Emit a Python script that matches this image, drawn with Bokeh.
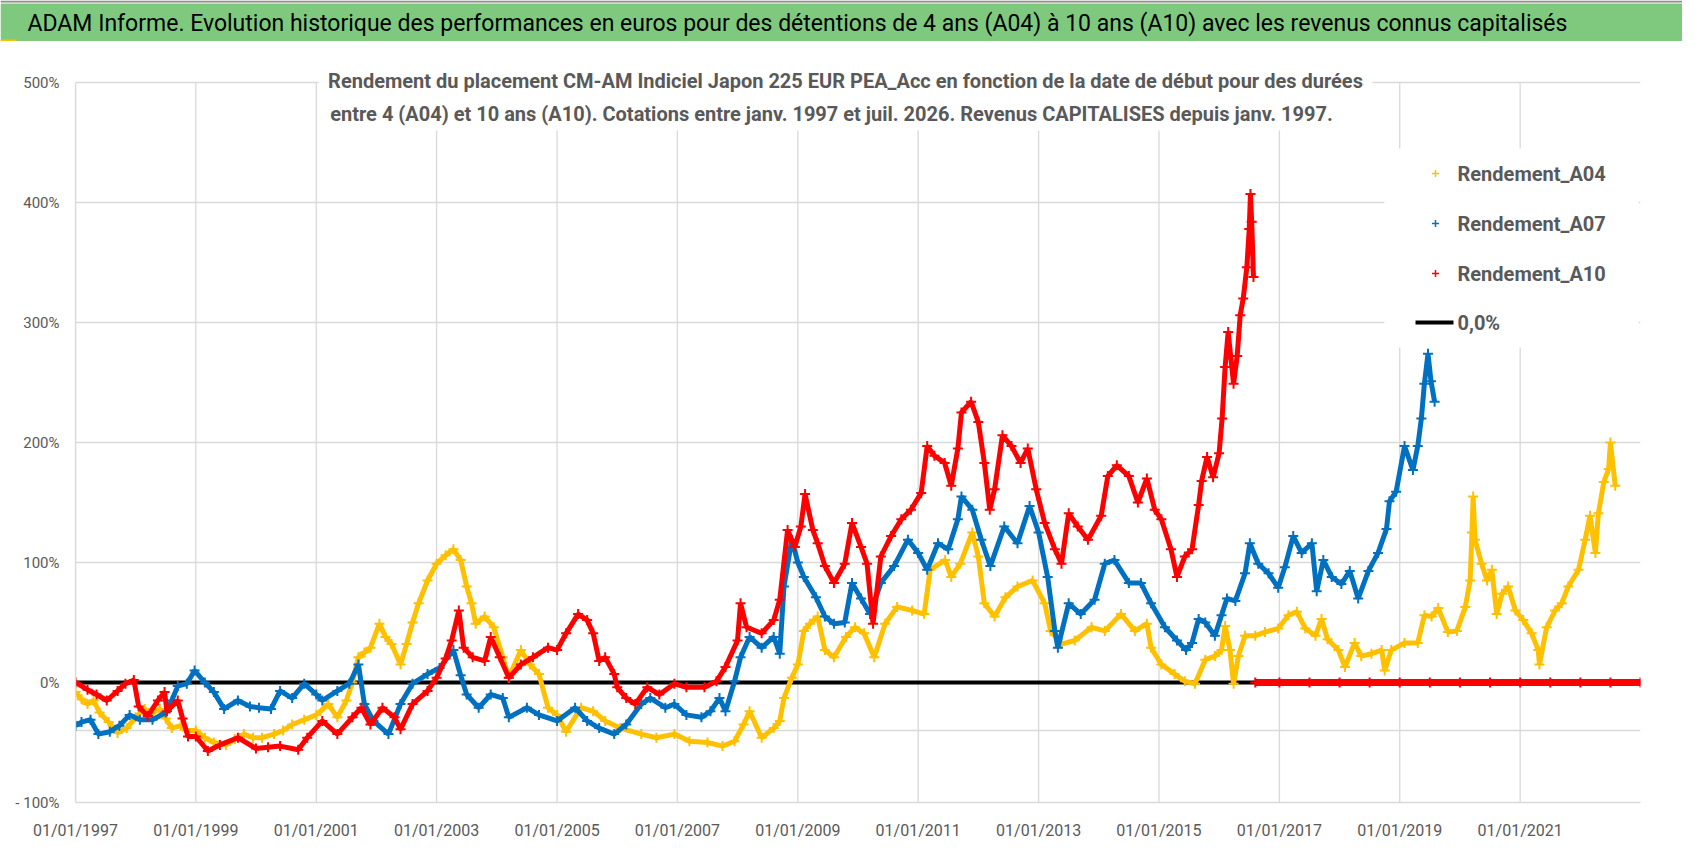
from datetime import datetime

from bokeh.embed import file_html
from bokeh.models import ColumnDataSource, DatetimeTickFormatter, FixedTicker, Label, Range1d, Span
from bokeh.plotting import figure
from bokeh.resources import INLINE

# Start dates (decimal years) and returns (%).
a04_dates = [
    1997.00, 1997.10, 1997.20, 1997.30, 1997.40, 1997.55, 1997.70, 1997.85, 1998.00, 1998.15,
    1998.25, 1998.40, 1998.50, 1998.60, 1998.75, 1998.85, 1999.00, 1999.15, 1999.30, 1999.50,
    1999.65, 1999.80, 1999.95, 2000.10, 2000.30, 2000.45, 2000.60, 2000.80, 2001.00, 2001.20,
    2001.35, 2001.50, 2001.60, 2001.70, 2001.80, 2001.90, 2002.05, 2002.15, 2002.25, 2002.40,
    2002.50, 2002.60, 2002.70, 2002.85, 2003.00, 2003.15, 2003.28, 2003.40, 2003.50, 2003.58,
    2003.65, 2003.80, 2003.95, 2004.10, 2004.20, 2004.40, 2004.55, 2004.70, 2004.85, 2005.00,
    2005.15, 2005.40, 2005.60, 2005.80, 2006.05, 2006.40, 2006.65, 2006.95, 2007.20, 2007.50,
    2007.75, 2007.95, 2008.10, 2008.20, 2008.40, 2008.60, 2008.70, 2008.77, 2008.90, 2009.00,
    2009.10, 2009.20, 2009.33, 2009.45, 2009.60, 2009.80, 2009.95, 2010.10, 2010.27, 2010.45,
    2010.65, 2010.90, 2011.10, 2011.20, 2011.45, 2011.55, 2011.70, 2011.90, 2012.00, 2012.10,
    2012.27, 2012.45, 2012.65, 2012.90, 2013.10, 2013.20, 2013.38, 2013.60, 2013.88, 2014.10,
    2014.37, 2014.60, 2014.80, 2014.87, 2015.04, 2015.26, 2015.43, 2015.60, 2015.77, 2015.93,
    2016.04, 2016.10, 2016.18, 2016.24, 2016.32, 2016.43, 2016.60, 2016.76, 2016.98, 2017.15,
    2017.29, 2017.43, 2017.60, 2017.70, 2017.80, 2017.98, 2018.09, 2018.25, 2018.36, 2018.53,
    2018.70, 2018.75, 2018.86, 2019.08, 2019.30, 2019.41, 2019.53, 2019.64, 2019.80, 2019.95,
    2020.09, 2020.17, 2020.20, 2020.22, 2020.25, 2020.36, 2020.45, 2020.53, 2020.61, 2020.70,
    2020.80, 2020.92, 2021.05, 2021.19, 2021.30, 2021.32, 2021.44, 2021.58, 2021.69, 2021.80,
    2021.97, 2022.08, 2022.16, 2022.25, 2022.30, 2022.39, 2022.47, 2022.50, 2022.58,
]
a04_returns = [
    -8, -14, -18, -15, -25, -33, -42, -38, -29, -22,
    -26, -22, -30, -38, -36, -40, -40, -46, -50, -52,
    -47, -43, -46, -46, -43, -40, -35, -31, -27, -18,
    -29, -15, 0, 21, 25, 29, 49, 38, 32, 15,
    32, 50, 66, 85, 99, 106, 111, 102, 80, 66,
    49, 55, 46, 21, 4, 27, 15, 7, -21, -27,
    -41, -21, -24, -32, -38, -43, -46, -43, -49, -50,
    -53, -49, -35, -24, -46, -38, -32, -13, 4, 15,
    43, 49, 55, 27, 21, 38, 46, 41, 21, 49,
    63, 60, 57, 94, 102, 88, 99, 125, 105, 66,
    55, 71, 80, 85, 66, 43, 32, 35, 46, 43,
    57, 43, 49, 29, 15, 7, 1, -1, 19, 22,
    27, 47, 27, -1, 22, 39, 39, 42, 45, 56,
    59, 45, 39, 53, 36, 27, 13, 33, 22, 24,
    27, 10, 27, 33, 33, 56, 55, 62, 42, 43,
    63, 85, 125, 155, 119, 99, 85, 94, 57, 74,
    80, 60, 52, 41, 27, 15, 46, 60, 66, 80,
    94, 119, 139, 108, 141, 167, 178, 200, 164,
]

a07_dates = [
    1997.00, 1997.10, 1997.25, 1997.38, 1997.57, 1997.73, 1997.90, 1998.07, 1998.28, 1998.50,
    1998.60, 1998.70, 1998.85, 1998.98, 1999.15, 1999.30, 1999.47, 1999.70, 1999.90, 2000.05,
    2000.25, 2000.40, 2000.60, 2000.80, 2001.00, 2001.10, 2001.35, 2001.55, 2001.70, 2001.80,
    2001.95, 2002.20, 2002.40, 2002.60, 2002.85, 2003.05, 2003.28, 2003.40, 2003.50, 2003.70,
    2003.90, 2004.10, 2004.20, 2004.50, 2004.70, 2005.00, 2005.30, 2005.50, 2005.70, 2005.95,
    2006.15, 2006.40, 2006.55, 2006.80, 2006.95, 2007.15, 2007.40, 2007.55, 2007.70, 2007.80,
    2007.95, 2008.05, 2008.20, 2008.40, 2008.60, 2008.70, 2008.77, 2008.90, 2009.00, 2009.10,
    2009.30, 2009.45, 2009.60, 2009.78, 2009.90, 2010.05, 2010.20, 2010.38, 2010.60, 2010.83,
    2011.00, 2011.15, 2011.33, 2011.50, 2011.66, 2011.72, 2011.90, 2012.05, 2012.20, 2012.43,
    2012.65, 2012.85, 2013.00, 2013.15, 2013.27, 2013.32, 2013.50, 2013.70, 2013.93, 2014.10,
    2014.26, 2014.50, 2014.70, 2014.87, 2015.10, 2015.30, 2015.45, 2015.55, 2015.66, 2015.77,
    2015.93, 2016.04, 2016.13, 2016.27, 2016.43, 2016.51, 2016.65, 2016.82, 2016.98, 2017.09,
    2017.23, 2017.37, 2017.54, 2017.62, 2017.73, 2017.87, 2018.03, 2018.17, 2018.31, 2018.48,
    2018.64, 2018.78, 2018.83, 2018.94, 2019.08, 2019.22, 2019.30, 2019.36, 2019.41, 2019.47,
    2019.52, 2019.58,
]
a07_returns = [
    -36, -33, -31, -43, -41, -36, -27, -31, -31, -25,
    -15, -3, -1, 10, 0, -8, -22, -15, -20, -21,
    -22, -7, -13, -1, -10, -15, -7, -1, 15, -18,
    -32, -43, -18, -1, 7, 12, 27, 6, -10, -21,
    -10, -13, -29, -21, -27, -32, -21, -32, -38, -43,
    -35, -18, -13, -21, -18, -27, -29, -24, -13, -24,
    1, 21, 38, 29, 38, 24, 80, 119, 100, 88,
    71, 55, 49, 50, 83, 70, 57, 83, 97, 119,
    108, 94, 116, 111, 136, 155, 144, 119, 97, 130,
    116, 147, 125, 88, 43, 29, 66, 57, 69, 99,
    102, 83, 83, 66, 46, 35, 27, 33, 53, 50,
    39, 56, 70, 68, 91, 116, 99, 91, 79, 96,
    122, 108, 116, 76, 102, 88, 82, 93, 70, 93,
    108, 128, 151, 159, 197, 177, 197, 220, 249, 274,
    251, 234,
]

a10_dates = [
    1997.00, 1997.20, 1997.35, 1997.52, 1997.70, 1997.83, 1997.97, 1998.05, 1998.20, 1998.37,
    1998.48, 1998.52, 1998.70, 1998.78, 1998.87, 1999.00, 1999.20, 1999.40, 1999.70, 2000.00,
    2000.20, 2000.40, 2000.70, 2000.85, 2001.10, 2001.35, 2001.60, 2001.75, 2001.90, 2002.10,
    2002.30, 2002.40, 2002.60, 2002.85, 2003.00, 2003.15, 2003.25, 2003.37, 2003.45, 2003.60,
    2003.80, 2003.90, 2004.05, 2004.20, 2004.40, 2004.60, 2004.85, 2005.00, 2005.15, 2005.35,
    2005.50, 2005.60, 2005.70, 2005.80, 2005.95, 2006.00, 2006.15, 2006.30, 2006.50, 2006.70,
    2006.95, 2007.15, 2007.45, 2007.65, 2007.80, 2008.00, 2008.05, 2008.15, 2008.40, 2008.60,
    2008.70, 2008.83, 2008.95, 2009.05, 2009.12, 2009.25, 2009.33, 2009.45, 2009.60, 2009.78,
    2009.90, 2010.05, 2010.15, 2010.25, 2010.38, 2010.55, 2010.72, 2010.88, 2011.05, 2011.15,
    2011.27, 2011.44, 2011.55, 2011.66, 2011.72, 2011.88, 2012.00, 2012.10, 2012.19, 2012.27,
    2012.40, 2012.55, 2012.70, 2012.82, 2012.96, 2013.10, 2013.27, 2013.38, 2013.50, 2013.65,
    2013.82, 2014.04, 2014.15, 2014.30, 2014.50, 2014.65, 2014.80, 2014.93, 2015.04, 2015.20,
    2015.30, 2015.43, 2015.55, 2015.66, 2015.71, 2015.80, 2015.90, 2016.00, 2016.05, 2016.10,
    2016.15, 2016.24, 2016.30, 2016.35, 2016.40, 2016.46, 2016.50, 2016.52, 2016.54, 2016.57,
]
a10_returns = [
    0, -6, -10, -15, -7, -1, 2, -20, -28, -15,
    -8, -24, -15, -30, -45, -45, -57, -52, -46, -55,
    -54, -53, -56, -46, -32, -43, -29, -21, -35, -21,
    -29, -39, -18, -7, 4, 20, 35, 60, 29, 21,
    18, 38, 21, 4, 15, 21, 29, 27, 41, 57,
    52, 41, 18, 21, 7, -4, -13, -18, -4, -10,
    -1, -4, -4, 1, 13, 35, 66, 46, 41, 52,
    69, 127, 113, 130, 157, 127, 116, 97, 83, 99,
    133, 113, 99, 49, 105, 122, 136, 144, 158, 197,
    189, 183, 164, 195, 225, 234, 217, 183, 144, 161,
    206, 197, 183, 195, 161, 133, 111, 99, 141, 130,
    119, 139, 172, 181, 172, 150, 170, 144, 136, 111,
    88, 105, 111, 148, 168, 188, 171, 191, 220, 263,
    292, 249, 272, 306, 320, 346, 378, 407, 384, 338,
]

# A10 is reported as 0 for start dates whose 10-year window is not complete.
a10_empty_dates = [2016.60, 2017.00, 2017.50, 2018.00, 2018.50, 2019.00, 2019.50,
                   2020.00, 2020.50, 2021.00, 2021.50, 2022.00, 2022.50, 2023.00]
a10_empty_returns = [0] * len(a10_empty_dates)

zero_dates = [1997.00, 2023.00]
zero_returns = [0, 0]

x_tick_years = [1997, 1999, 2001, 2003, 2005, 2007, 2009, 2011, 2013, 2015, 2017, 2019, 2021]
y_ticks = [-100, 0, 100, 200, 300, 400, 500]
y_tick_labels = ["- 100%", "0%", "100%", "200%", "300%", "400%", "500%"]
legend_labels = ["Rendement_A04", "Rendement_A07", "Rendement_A10", "0,0%"]

title_text = ("ADAM Informe. Evolution historique des performances en euros pour des détentions "
              "de 4 ans (A04) à 10 ans (A10) avec les revenus connus capitalisés")
subtitle_lines = [
    "Rendement du placement CM-AM Indiciel Japon 225 EUR PEA_Acc en fonction de la date de début pour des durées",
    "entre 4 (A04) et 10 ans (A10). Cotations entre janv. 1997 et juil. 2026. Revenus CAPITALISES depuis janv. 1997.",
]

FONT = "Roboto"
TEXT_GREY = "#595959"
GRID_GREY = "#d9d9d9"
BANNER_GREEN = "#7fc97f"
YELLOW, BLUE, RED = "#ffc000", "#0070c0", "#ff0000"

PAGE_WIDTH, PAGE_HEIGHT = 1682, 840
BANNER_HEIGHT = 41
# Frame of the main chart in page pixels; the 500% grid line sits below its top edge.
FRAME_LEFT, FRAME_TOP, FRAME_BOTTOM = 75, BANNER_HEIGHT, 802
FRAME_WIDTH = 1565
GRID_TOP = 82
X_START, X_END = datetime(1997, 1, 1), datetime(2023, 1, 1)
Y_START, Y_GRID_END = -100, 500
Y_END = Y_GRID_END + (Y_GRID_END - Y_START) * (GRID_TOP - FRAME_TOP) / (FRAME_BOTTOM - GRID_TOP)
EPOCH = datetime(1970, 1, 1)


def to_ms(moment: datetime) -> float:
    return (moment - EPOCH).total_seconds() * 1000.0


def decimal_year_to_datetime(year_value: float) -> datetime:
    year = int(year_value)
    start = datetime(year, 1, 1)
    return start + (datetime(year + 1, 1, 1) - start) * (year_value - year)


def data_x(px: float) -> float:
    return to_ms(X_START) + (to_ms(X_END) - to_ms(X_START)) * (px - FRAME_LEFT) / FRAME_WIDTH


def data_y(py: float) -> float:
    return Y_END - (Y_END - Y_START) * (py - FRAME_TOP) / (FRAME_BOTTOM - FRAME_TOP)


def create_banner() -> figure:
    banner = figure(width=PAGE_WIDTH, height=BANNER_HEIGHT, x_range=Range1d(0, PAGE_WIDTH),
                    y_range=Range1d(BANNER_HEIGHT, 0), min_border=0, toolbar_location=None,
                    output_backend="svg")
    banner.background_fill_color = "white"
    banner.border_fill_color = "white"
    banner.outline_line_color = None
    banner.axis.visible = False
    banner.grid.visible = False
    banner.quad(left=0, right=PAGE_WIDTH, top=3, bottom=BANNER_HEIGHT, fill_color=BANNER_GREEN, line_color=None)
    banner.line([0, PAGE_WIDTH], [1, 1], line_color="#8c8c8c", line_width=2)
    banner.quad(left=0, right=16, top=39, bottom=BANNER_HEIGHT, fill_color="#ffc000", line_color=None)
    banner.add_layout(Label(x=27, y=23, text=title_text, text_font=FONT, text_font_size="23px",
                            text_color="black", text_baseline="middle"))
    return banner


def add_series(figure_: figure, dates: list[float], returns: list[float], color: str, band_width: float):
    source = ColumnDataSource(data=dict(date=[decimal_year_to_datetime(t) for t in dates], rendement=returns))
    figure_.line("date", "rendement", source=source, line_color=color, line_width=band_width)
    figure_.scatter("date", "rendement", source=source, marker="cross", size=10, line_color=color, line_width=2)


def create_chart() -> figure:
    frame_height = FRAME_BOTTOM - FRAME_TOP
    figure_ = figure(x_axis_type="datetime", frame_width=FRAME_WIDTH, frame_height=frame_height,
                     x_range=Range1d(X_START, X_END), y_range=Range1d(Y_START, Y_END),
                     min_border_left=FRAME_LEFT, min_border_right=PAGE_WIDTH - FRAME_LEFT - FRAME_WIDTH,
                     min_border_top=0, min_border_bottom=PAGE_HEIGHT - FRAME_BOTTOM,
                     toolbar_location=None, output_backend="svg")
    figure_.outline_line_color = None
    figure_.background_fill_color = "white"
    figure_.border_fill_color = "white"

    tick_dates = [datetime(y, 1, 1) for y in x_tick_years]
    figure_.xaxis.ticker = FixedTicker(ticks=[to_ms(d) for d in tick_dates])
    figure_.xaxis.formatter = DatetimeTickFormatter(days="%d/%m/%Y", months="%d/%m/%Y", years="%d/%m/%Y")
    figure_.yaxis.ticker = FixedTicker(ticks=y_ticks)
    figure_.yaxis.major_label_overrides = dict(zip(y_ticks, y_tick_labels))
    figure_.yaxis.bounds = (Y_START, Y_GRID_END)
    for axis, size, standoff in ((figure_.xaxis, "16px", 18), (figure_.yaxis, "15px", 16)):
        axis.axis_line_color = GRID_GREY
        axis.axis_line_width = 1.3
        axis.major_tick_line_color = None
        axis.minor_tick_line_color = None
        axis.major_tick_out = 0
        axis.major_tick_in = 0
        axis.major_label_text_font = FONT
        axis.major_label_text_font_size = size
        axis.major_label_text_color = TEXT_GREY
        axis.major_label_standoff = standoff

    # Horizontal grid from the y ticks, vertical grid stopped at 500%.
    figure_.xgrid.visible = False
    figure_.ygrid.grid_line_color = GRID_GREY
    figure_.ygrid.grid_line_width = 1.3
    figure_.segment(x0=tick_dates, x1=tick_dates, y0=Y_START, y1=Y_GRID_END, line_color=GRID_GREY,
                    line_width=1.3, level="underlay")
    figure_.add_layout(Span(location=-40, dimension="width", line_color=GRID_GREY, line_width=1.3,
                            level="underlay"))

    # White boxes behind the inner title and the legend.
    figure_.quad(left=[data_x(318), data_x(1384)], right=[data_x(1372), data_x(1638)],
                 top=[data_y(FRAME_TOP), data_y(148)], bottom=[data_y(130), data_y(347)],
                 fill_color="white", line_color=None)

    zero_source = ColumnDataSource(data=dict(date=[decimal_year_to_datetime(t) for t in zero_dates],
                                             rendement=zero_returns))
    figure_.line("date", "rendement", source=zero_source, line_color="black", line_width=4)
    add_series(figure_, a04_dates, a04_returns, YELLOW, 5)
    add_series(figure_, a07_dates, a07_returns, BLUE, 5)
    add_series(figure_, a10_dates, a10_returns, RED, 5)
    add_series(figure_, a10_empty_dates, a10_empty_returns, RED, 7)

    for line, center_x, center_y in zip(subtitle_lines, (845, 831), (80, 113)):
        figure_.add_layout(Label(x=data_x(center_x), y=data_y(center_y), text=line, text_font=FONT,
                                 text_font_size="20px", text_font_style="bold", text_color=TEXT_GREY,
                                 text_align="center", text_baseline="middle"))

    # Legend drawn by hand to keep the Excel proportions.
    legend_rows = (173, 223, 273, 322)
    for row_y, color in zip(legend_rows[:3], (YELLOW, BLUE, RED)):
        figure_.scatter([data_x(1435)], [data_y(row_y)], marker="cross", size=7, line_color=color,
                        line_width=1.5)
    figure_.line([data_x(1415), data_x(1453)], [data_y(legend_rows[3])] * 2, line_color="black", line_width=4)
    for row_y, label in zip(legend_rows, legend_labels):
        figure_.add_layout(Label(x=data_x(1457), y=data_y(row_y), text=label, text_font=FONT,
                                 text_font_size="20px", text_font_style="bold", text_color=TEXT_GREY,
                                 text_baseline="middle"))
    return figure_


if __name__ == '__main__':
    # Two separate roots so that the banner is not aligned on the chart frame.
    open("out.html", "w", encoding="utf-8").write(file_html([create_banner(), create_chart()], INLINE))
